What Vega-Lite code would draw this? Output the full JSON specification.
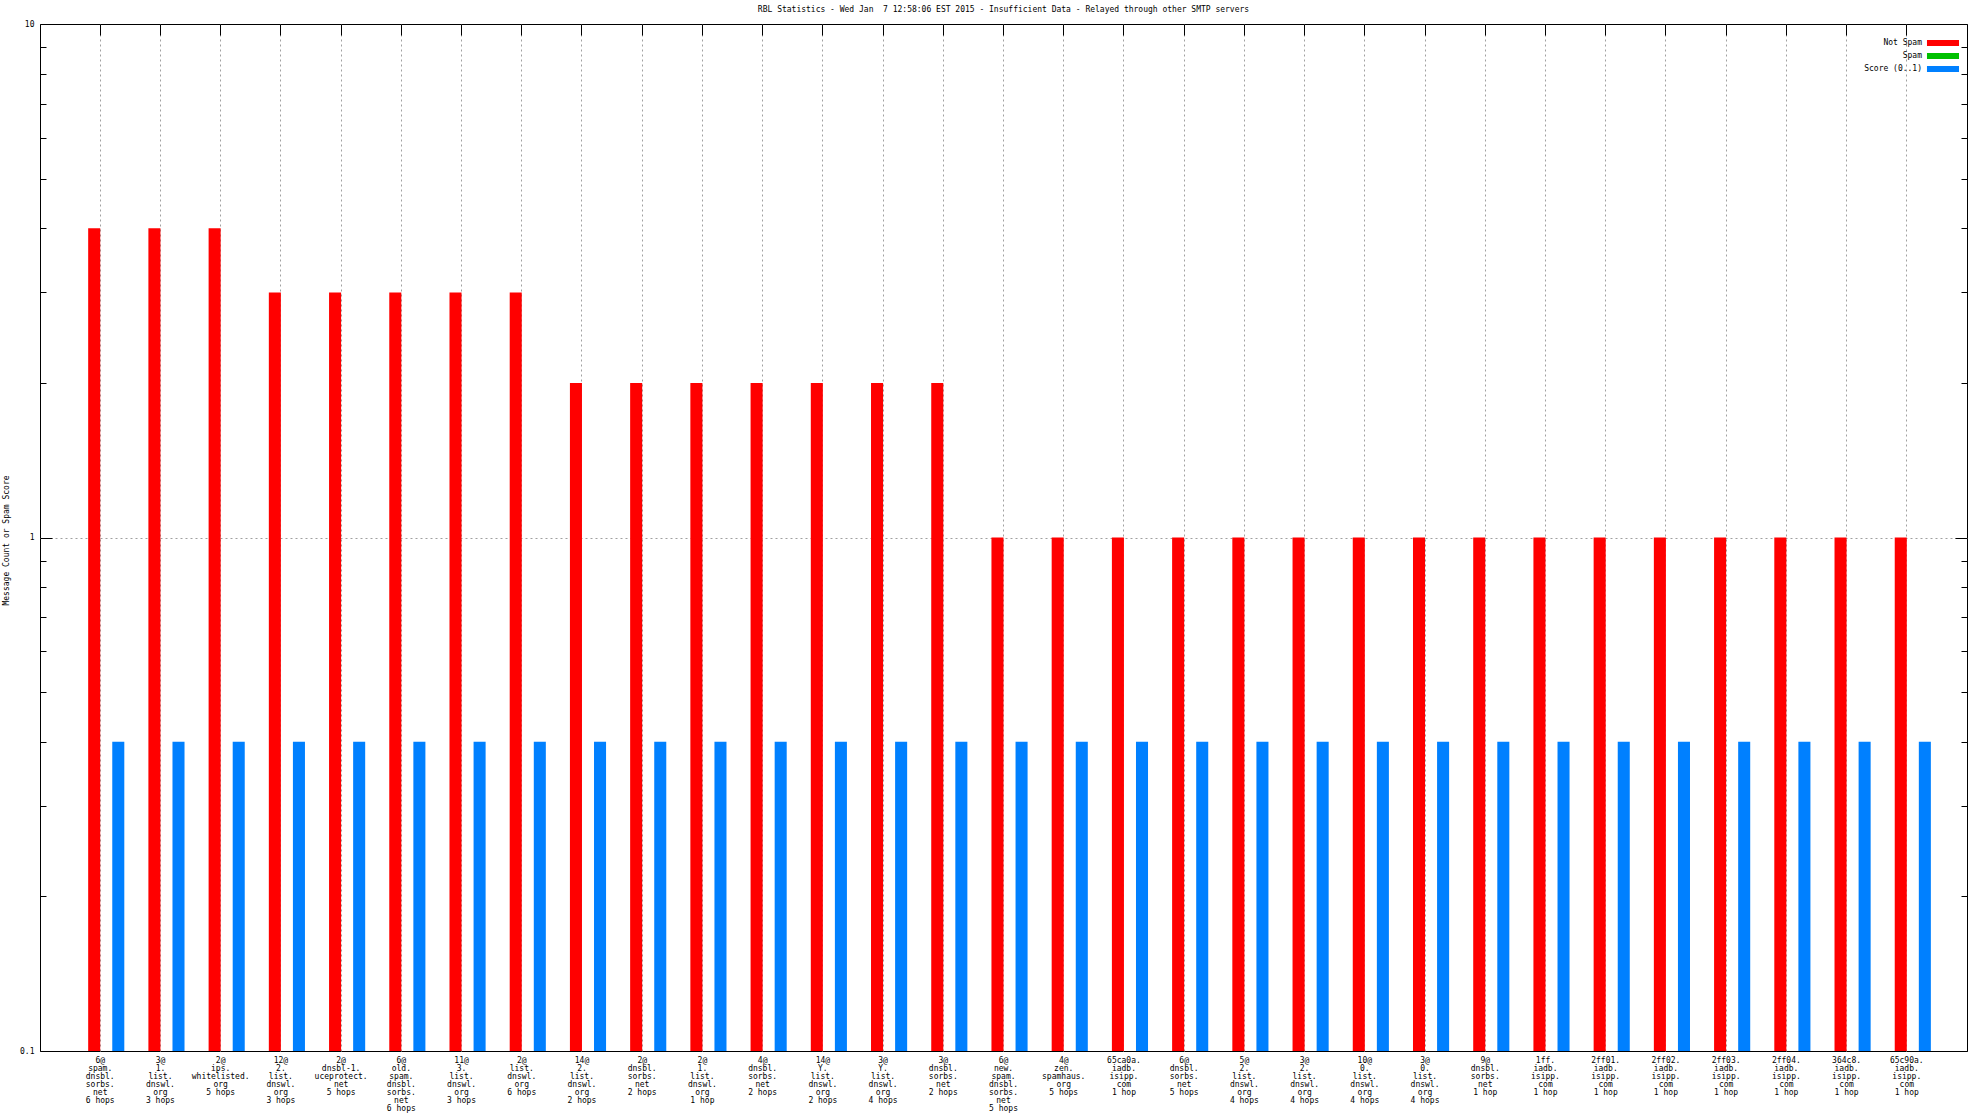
{
  "$schema": "https://vega.github.io/schema/vega-lite/v6.json",
  "autosize": {"type": "none"},
  "width": 1927,
  "height": 1027,
  "padding": {"left": 40, "top": 24, "right": 17, "bottom": 65},
  "background": "white",
  "title": {
    "text": "RBL Statistics - Wed Jan \u00a07 12:58:06 EST 2015 - Insufficient Data - Relayed through other SMTP servers",
    "font": "DejaVu Sans Mono",
    "fontSize": 8,
    "fontWeight": "normal",
    "color": "black",
    "anchor": "middle",
    "frame": "group",
    "baseline": "bottom",
    "offset": 8,
    "dy": 10
  },
  "data": {
    "values": [
      {"rbl": "6@|spam.|dnsbl.|sorbs.|net|6 hops", "series": "Not Spam", "value": 4},
      {"rbl": "6@|spam.|dnsbl.|sorbs.|net|6 hops", "series": "Score (0..1)", "value": 0.4},
      {"rbl": "3@|1.|list.|dnswl.|org|3 hops", "series": "Not Spam", "value": 4},
      {"rbl": "3@|1.|list.|dnswl.|org|3 hops", "series": "Score (0..1)", "value": 0.4},
      {"rbl": "2@|ips.|whitelisted.|org|5 hops", "series": "Not Spam", "value": 4},
      {"rbl": "2@|ips.|whitelisted.|org|5 hops", "series": "Score (0..1)", "value": 0.4},
      {"rbl": "12@|2.|list.|dnswl.|org|3 hops", "series": "Not Spam", "value": 3},
      {"rbl": "12@|2.|list.|dnswl.|org|3 hops", "series": "Score (0..1)", "value": 0.4},
      {"rbl": "2@|dnsbl-1.|uceprotect.|net|5 hops", "series": "Not Spam", "value": 3},
      {"rbl": "2@|dnsbl-1.|uceprotect.|net|5 hops", "series": "Score (0..1)", "value": 0.4},
      {"rbl": "6@|old.|spam.|dnsbl.|sorbs.|net|6 hops", "series": "Not Spam", "value": 3},
      {"rbl": "6@|old.|spam.|dnsbl.|sorbs.|net|6 hops", "series": "Score (0..1)", "value": 0.4},
      {"rbl": "11@|3.|list.|dnswl.|org|3 hops", "series": "Not Spam", "value": 3},
      {"rbl": "11@|3.|list.|dnswl.|org|3 hops", "series": "Score (0..1)", "value": 0.4},
      {"rbl": "2@|list.|dnswl.|org|6 hops", "series": "Not Spam", "value": 3},
      {"rbl": "2@|list.|dnswl.|org|6 hops", "series": "Score (0..1)", "value": 0.4},
      {"rbl": "14@|2.|list.|dnswl.|org|2 hops", "series": "Not Spam", "value": 2},
      {"rbl": "14@|2.|list.|dnswl.|org|2 hops", "series": "Score (0..1)", "value": 0.4},
      {"rbl": "2@|dnsbl.|sorbs.|net|2 hops", "series": "Not Spam", "value": 2},
      {"rbl": "2@|dnsbl.|sorbs.|net|2 hops", "series": "Score (0..1)", "value": 0.4},
      {"rbl": "2@|1.|list.|dnswl.|org|1 hop", "series": "Not Spam", "value": 2},
      {"rbl": "2@|1.|list.|dnswl.|org|1 hop", "series": "Score (0..1)", "value": 0.4},
      {"rbl": "4@|dnsbl.|sorbs.|net|2 hops", "series": "Not Spam", "value": 2},
      {"rbl": "4@|dnsbl.|sorbs.|net|2 hops", "series": "Score (0..1)", "value": 0.4},
      {"rbl": "14@|Y.|list.|dnswl.|org|2 hops", "series": "Not Spam", "value": 2},
      {"rbl": "14@|Y.|list.|dnswl.|org|2 hops", "series": "Score (0..1)", "value": 0.4},
      {"rbl": "3@|Y.|list.|dnswl.|org|4 hops", "series": "Not Spam", "value": 2},
      {"rbl": "3@|Y.|list.|dnswl.|org|4 hops", "series": "Score (0..1)", "value": 0.4},
      {"rbl": "3@|dnsbl.|sorbs.|net|2 hops", "series": "Not Spam", "value": 2},
      {"rbl": "3@|dnsbl.|sorbs.|net|2 hops", "series": "Score (0..1)", "value": 0.4},
      {"rbl": "6@|new.|spam.|dnsbl.|sorbs.|net|5 hops", "series": "Not Spam", "value": 1},
      {"rbl": "6@|new.|spam.|dnsbl.|sorbs.|net|5 hops", "series": "Score (0..1)", "value": 0.4},
      {"rbl": "4@|zen.|spamhaus.|org|5 hops", "series": "Not Spam", "value": 1},
      {"rbl": "4@|zen.|spamhaus.|org|5 hops", "series": "Score (0..1)", "value": 0.4},
      {"rbl": "65ca0a.|iadb.|isipp.|com|1 hop", "series": "Not Spam", "value": 1},
      {"rbl": "65ca0a.|iadb.|isipp.|com|1 hop", "series": "Score (0..1)", "value": 0.4},
      {"rbl": "6@|dnsbl.|sorbs.|net|5 hops", "series": "Not Spam", "value": 1},
      {"rbl": "6@|dnsbl.|sorbs.|net|5 hops", "series": "Score (0..1)", "value": 0.4},
      {"rbl": "5@|2.|list.|dnswl.|org|4 hops", "series": "Not Spam", "value": 1},
      {"rbl": "5@|2.|list.|dnswl.|org|4 hops", "series": "Score (0..1)", "value": 0.4},
      {"rbl": "3@|2.|list.|dnswl.|org|4 hops", "series": "Not Spam", "value": 1},
      {"rbl": "3@|2.|list.|dnswl.|org|4 hops", "series": "Score (0..1)", "value": 0.4},
      {"rbl": "10@|0.|list.|dnswl.|org|4 hops", "series": "Not Spam", "value": 1},
      {"rbl": "10@|0.|list.|dnswl.|org|4 hops", "series": "Score (0..1)", "value": 0.4},
      {"rbl": "3@|0.|list.|dnswl.|org|4 hops", "series": "Not Spam", "value": 1},
      {"rbl": "3@|0.|list.|dnswl.|org|4 hops", "series": "Score (0..1)", "value": 0.4},
      {"rbl": "9@|dnsbl.|sorbs.|net|1 hop", "series": "Not Spam", "value": 1},
      {"rbl": "9@|dnsbl.|sorbs.|net|1 hop", "series": "Score (0..1)", "value": 0.4},
      {"rbl": "1ff.|iadb.|isipp.|com|1 hop", "series": "Not Spam", "value": 1},
      {"rbl": "1ff.|iadb.|isipp.|com|1 hop", "series": "Score (0..1)", "value": 0.4},
      {"rbl": "2ff01.|iadb.|isipp.|com|1 hop", "series": "Not Spam", "value": 1},
      {"rbl": "2ff01.|iadb.|isipp.|com|1 hop", "series": "Score (0..1)", "value": 0.4},
      {"rbl": "2ff02.|iadb.|isipp.|com|1 hop", "series": "Not Spam", "value": 1},
      {"rbl": "2ff02.|iadb.|isipp.|com|1 hop", "series": "Score (0..1)", "value": 0.4},
      {"rbl": "2ff03.|iadb.|isipp.|com|1 hop", "series": "Not Spam", "value": 1},
      {"rbl": "2ff03.|iadb.|isipp.|com|1 hop", "series": "Score (0..1)", "value": 0.4},
      {"rbl": "2ff04.|iadb.|isipp.|com|1 hop", "series": "Not Spam", "value": 1},
      {"rbl": "2ff04.|iadb.|isipp.|com|1 hop", "series": "Score (0..1)", "value": 0.4},
      {"rbl": "364c8.|iadb.|isipp.|com|1 hop", "series": "Not Spam", "value": 1},
      {"rbl": "364c8.|iadb.|isipp.|com|1 hop", "series": "Score (0..1)", "value": 0.4},
      {"rbl": "65c90a.|iadb.|isipp.|com|1 hop", "series": "Not Spam", "value": 1},
      {"rbl": "65c90a.|iadb.|isipp.|com|1 hop", "series": "Score (0..1)", "value": 0.4}
    ]
  },
  "layer": [
    {
      "mark": {"type": "bar"},
      "encoding": {
        "x": {
          "field": "rbl",
          "type": "nominal",
          "sort": null,
          "scale": {"paddingInner": 0, "paddingOuter": 0.5},
          "axis": {
            "orient": "bottom",
            "title": null,
            "ticks": false,
            "grid": true,
            "labelAngle": 0,
            "labelExpr": "split(datum.label, '|')",
            "labelBaseline": "top",
            "labelAlign": "center",
            "labelPadding": 5,
            "labelLineHeight": 8,
            "labelOverlap": false,
            "labelFlush": false,
            "labelBound": false,
            "labelLimit": 0
          }
        },
        "xOffset": {
          "field": "series",
          "type": "nominal",
          "scale": {"domain": ["pad", "Not Spam", "Spam", "Score (0..1)"], "paddingInner": 0, "paddingOuter": 0.5}
        },
        "y": {
          "field": "value",
          "type": "quantitative",
          "stack": null,
          "scale": {"type": "log", "domain": [0.1, 10], "nice": false},
          "axis": {
            "orient": "left",
            "title": "Message Count or Spam Score",
            "titleAngle": 270,
            "titleX": -34,
            "titleY": 516,
            "titleAlign": "center",
            "titleBaseline": "middle",
            "values": [0.1, 0.2, 0.3, 0.4, 0.5, 0.6, 0.7, 0.8, 0.9, 1, 2, 3, 4, 5, 6, 7, 8, 9, 10],
            "labelExpr": "datum.value == 10 ? '10' : datum.value == 1 ? '1' : datum.value == 0.1 ? '0.1' : ''",
            "labelBaseline": "middle",
            "labelPadding": 18,
            "tickSize": {"condition": {"test": "datum.value == 10 || datum.value == 1 || datum.value == 0.1", "value": -12}, "value": -6},
            "grid": true,
            "gridOpacity": {"condition": {"test": "datum.value == 1", "value": 1}, "value": 0},
            "labelOverlap": false,
            "labelFlush": false
          }
        },
        "y2": {"datum": 0.1},
        "color": {
          "field": "series",
          "type": "nominal",
          "scale": {"domain": ["Not Spam", "Spam", "Score (0..1)"], "range": ["#ff0000", "#00c000", "#0080ff"]},
          "legend": {
            "title": null,
            "orient": "none",
            "legendX": 1897,
            "legendY": 13,
            "padding": 0,
            "symbolType": "M-2.67,-0.5H2.67V0.5H-2.67Z",
            "symbolSize": 144,
            "symbolStrokeWidth": 0,
            "symbolOpacity": 1,
            "labelAlign": "right",
            "labelOffset": -27,
            "labelFont": "DejaVu Sans Mono",
            "labelFontSize": 8,
            "labelColor": "black",
            "rowPadding": 3,
            "labelLimit": 0
          }
        }
      }
    },
    {
      "mark": {"type": "tick", "opacity": 0},
      "encoding": {
        "x": {
          "field": "rbl",
          "type": "nominal",
          "sort": null,
          "axis": {"orient": "top", "title": null, "labels": false, "grid": false, "ticks": true, "tickSize": -11}
        },
        "y": {
          "field": "value",
          "type": "quantitative",
          "axis": {
            "orient": "right",
            "title": null,
            "labels": false,
            "grid": false,
            "values": [0.1, 0.2, 0.3, 0.4, 0.5, 0.6, 0.7, 0.8, 0.9, 1, 2, 3, 4, 5, 6, 7, 8, 9, 10],
            "tickSize": {"condition": {"test": "datum.value == 10 || datum.value == 1 || datum.value == 0.1", "value": -12}, "value": -6}
          }
        }
      }
    }
  ],
  "resolve": {"axis": {"x": "independent", "y": "independent"}},
  "config": {
    "font": "DejaVu Sans Mono",
    "view": {"stroke": "black", "strokeWidth": 1},
    "axis": {
      "domain": false,
      "labelFont": "DejaVu Sans Mono",
      "labelFontSize": 8,
      "labelColor": "black",
      "titleFont": "DejaVu Sans Mono",
      "titleFontSize": 8,
      "titleFontWeight": "normal",
      "titleColor": "black",
      "tickColor": "black",
      "tickWidth": 1,
      "gridColor": "#a0a0a0",
      "gridDash": [2, 3],
      "gridWidth": 1
    }
  }
}
